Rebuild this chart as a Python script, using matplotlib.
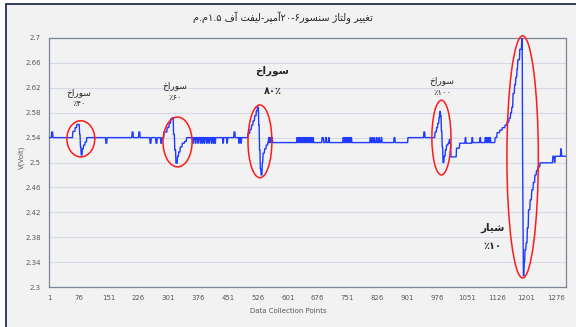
import re
import numpy as np
import matplotlib
matplotlib.use("Agg")
import matplotlib.pyplot as plt
from matplotlib.patches import Ellipse, Rectangle

# sensor trace, stored as steps: index where each level starts and its voltage
seg_start = [1, 8, 11, 61, 67, 71, 78, 80, 82, 85, 88, 92, 96,
             144, 147, 210, 213, 227, 230, 255, 258, 270, 273, 282, 285,
             290, 298, 303, 307, 311, 314, 317, 320, 324, 327, 331, 336, 342, 347,
             363, 365, 369, 371, 375, 377, 381, 383, 386, 388, 391, 393, 397, 399,
             403, 405, 409, 411, 414, 416, 418, 420,
             438, 440, 448, 450, 466, 469, 478, 480, 483, 485,
             501, 506, 510, 514, 518, 522, 525, 528, 530, 532, 534, 537, 539, 543, 547, 551,
             553, 555, 557, 559, 561, 563,
             624, 626, 628, 630, 632, 634, 636, 638, 640, 642, 644, 646, 648, 650,
             652, 654, 656, 658, 660, 662, 664, 666,
             687, 691, 696, 699, 704, 706,
             740, 742, 744, 746, 748, 750, 752, 754, 756, 758, 760, 762,
             808, 810, 813, 815, 818, 820, 824, 826, 830, 832, 836, 838,
             868, 871, 903, 943, 946,
             971, 975, 978, 981, 983, 985, 987, 989, 991, 994, 997, 1000, 1004, 1007,
             1009, 1011, 1025, 1033, 1047, 1049, 1064,
             1066, 1084, 1086, 1097, 1099, 1101, 1103, 1105, 1107, 1109, 1111,
             1122, 1127, 1134, 1140, 1147, 1152, 1157, 1161, 1164, 1167, 1171, 1174,
             1177, 1179, 1184, 1189, 1191, 1192, 1193,
             1195, 1197, 1200, 1203, 1206, 1210, 1214, 1218, 1222, 1226, 1230, 1235,
             1267, 1271, 1273, 1287, 1289]
seg_volt = [2.540, 2.549, 2.540, 2.550, 2.556, 2.561, 2.545, 2.525, 2.512, 2.522, 2.528, 2.533, 2.540,
            2.531, 2.540, 2.549, 2.540, 2.549, 2.540, 2.531, 2.540, 2.531, 2.540, 2.531, 2.540,
            2.549, 2.556, 2.563, 2.570, 2.572, 2.545, 2.520, 2.499, 2.510, 2.517, 2.525, 2.531, 2.534, 2.540,
            2.531, 2.540, 2.531, 2.540, 2.531, 2.540, 2.531, 2.540, 2.531, 2.540, 2.531, 2.540, 2.531, 2.540,
            2.531, 2.540, 2.531, 2.540, 2.531, 2.540, 2.531, 2.540,
            2.531, 2.540, 2.531, 2.540, 2.549, 2.540, 2.531, 2.540, 2.531, 2.540,
            2.547, 2.553, 2.560, 2.567, 2.575, 2.583, 2.589, 2.560, 2.520, 2.490, 2.480, 2.500, 2.515, 2.522, 2.528, 2.532,
            2.540, 2.532, 2.540, 2.532, 2.540, 2.532,
            2.540, 2.532, 2.540, 2.532, 2.540, 2.532, 2.540, 2.532, 2.540, 2.532, 2.540, 2.532, 2.540, 2.532,
            2.540, 2.532, 2.540, 2.532, 2.540, 2.532, 2.540, 2.532,
            2.540, 2.532, 2.540, 2.532, 2.540, 2.532,
            2.540, 2.532, 2.540, 2.532, 2.540, 2.532, 2.540, 2.532, 2.540, 2.532, 2.540, 2.532,
            2.540, 2.532, 2.540, 2.532, 2.540, 2.532, 2.540, 2.532, 2.540, 2.532, 2.540, 2.532,
            2.540, 2.532, 2.540, 2.549, 2.540,
            2.549, 2.556, 2.563, 2.572, 2.582, 2.575, 2.550, 2.525, 2.500, 2.510, 2.520, 2.528, 2.531, 2.537,
            2.531, 2.509, 2.523, 2.531, 2.540, 2.531, 2.540,
            2.532, 2.540, 2.532, 2.540, 2.532, 2.540, 2.532, 2.540, 2.532, 2.540, 2.532,
            2.540, 2.548, 2.552, 2.556, 2.560, 2.565, 2.571, 2.580, 2.589, 2.611, 2.625, 2.637,
            2.650, 2.665, 2.682, 2.700, 2.500, 2.400, 2.318,
            2.340, 2.360, 2.371, 2.395, 2.424, 2.440, 2.456, 2.468, 2.480, 2.487, 2.493, 2.4995,
            2.510, 2.500, 2.510, 2.522, 2.510]
n_points = 1300

# defect markers: label, percent text, label position, ellipse centre and size
marks = [
    ("سوراخ", "۴۰٪", 77, 2.613, 2.594, 81, 2.538, 70, 0.058, False),
    ("سوراخ", "۶۰٪", 318, 2.624, 2.604, 324, 2.533, 73, 0.080, False),
    ("سوراخ", "٪۸۰", 563, 2.647, 2.615, 531, 2.534, 60, 0.117, True),
    ("سوراخ", "۱۰۰٪", 989, 2.631, 2.612, 987, 2.540, 48, 0.120, False),
    ("شیار", "۱۰٪", 1115, 2.395, 2.366, 1191, 2.509, 79, 0.389, True),
]

title = "تغییر ولتاژ سنسور۶-۲۰آمپر-لیفت آف ۱.۵م.م"

x_ticks = list(range(1, 1277, 75))
y_ticks = np.round(np.arange(2.30, 2.701, 0.04), 2)

# isolated, final, initial, medial presentation forms
FORMS = {
    'ا': ('\uFE8D', '\uFE8E', None, None),
    'آ': ('\uFE81', '\uFE82', None, None),
    'ر': ('\uFEAD', '\uFEAE', None, None),
    'و': ('\uFEED', '\uFEEE', None, None),
    'ژ': ('\uFB8A', '\uFB8B', None, None),
    'ت': ('\uFE95', '\uFE96', '\uFE97', '\uFE98'),
    'غ': ('\uFECD', '\uFECE', '\uFECF', '\uFED0'),
    'ی': ('\uFBFC', '\uFBFD', '\uFBFE', '\uFBFF'),
    'ل': ('\uFEDD', '\uFEDE', '\uFEDF', '\uFEE0'),
    'س': ('\uFEB1', '\uFEB2', '\uFEB3', '\uFEB4'),
    'ش': ('\uFEB5', '\uFEB6', '\uFEB7', '\uFEB8'),
    'ن': ('\uFEE5', '\uFEE6', '\uFEE7', '\uFEE8'),
    'م': ('\uFEE1', '\uFEE2', '\uFEE3', '\uFEE4'),
    'پ': ('\uFB56', '\uFB57', '\uFB58', '\uFB59'),
    'ف': ('\uFED1', '\uFED2', '\uFED3', '\uFED4'),
    'خ': ('\uFEA5', '\uFEA6', '\uFEA7', '\uFEA8'),
}


def fa(text):
    # join letters and lay the string out right to left, digit runs stay LTR
    out = []
    for i, c in enumerate(text):
        if c not in FORMS:
            out.append(c)
            continue
        prev = text[i - 1] if i > 0 else ''
        nxt = text[i + 1] if i + 1 < len(text) else ''
        join_prev = prev in FORMS and FORMS[prev][2] is not None
        join_next = FORMS[c][2] is not None and nxt in FORMS
        iso, fin, ini, med = FORMS[c]
        if join_prev and join_next:
            out.append(med)
        elif join_prev:
            out.append(fin)
        elif join_next:
            out.append(ini)
        else:
            out.append(iso)
    tokens = re.findall(r'[۰-۹]+(?:\.[۰-۹]+)*|.', ''.join(out))
    return ''.join(reversed(tokens))


starts = np.array(seg_start + [n_points + 1])
volts = np.repeat(seg_volt, np.diff(starts))
idx = np.arange(1, n_points + 1)

fig = plt.figure(figsize=(5.76, 3.27), dpi=100, facecolor='white')
fig.patches.append(Rectangle((6 / 576, -0.1), 1.2, 0.1 + 323 / 327, transform=fig.transFigure,
                             facecolor='#f2f2f2', edgecolor='#22304f', lw=1.3, zorder=-5))

ax = fig.add_axes([49 / 576, 40 / 327, 517 / 576, 249 / 327])
ax.set_zorder(2)
ax.set_facecolor('#f2f2f2')
ax.plot(idx, volts, color='#1f3bff', lw=1.0, zorder=3)

ax.set_xlim(1, n_points)
ax.set_ylim(2.3, 2.7)
ax.set_xticks(x_ticks)
ax.set_xticklabels([str(t) for t in x_ticks])
ax.set_yticks(y_ticks)
ax.set_yticklabels([f"{t:g}" for t in y_ticks])
ax.tick_params(length=0, labelsize=5, colors='#595959', pad=6)
ax.grid(axis='y', color='#d5dbe6', lw=0.8)
ax.set_axisbelow(True)
for sp in ax.spines.values():
    sp.set_color('#7d8699')
    sp.set_linewidth(0.9)

for word, pct, tx, ty1, ty2, ex, ey, ew, eh, strong in marks:
    w = 'bold' if strong else 'normal'
    fs = 7.5 if strong else 6.5
    ax.text(tx, ty1, fa(word), ha='center', va='center', fontsize=fs, fontweight=w, color='#262626')
    ax.text(tx, ty2, fa(pct), ha='center', va='center', fontsize=fs - 0.5, fontweight=w, color='#262626')
    ax.add_patch(Ellipse((ex, ey), ew, eh, fill=False, edgecolor='#ff1a1a', lw=1.1,
                         clip_on=False, zorder=4))

fig.text(0.492, 0.947, fa(title), ha='center', va='center', fontsize=7, color='#262626')
fig.text(0.5, 0.048, "Data Collection Points", ha='center', va='center', fontsize=5, color='#595959')
fig.text(0.037, 0.52, "V(Volt)", ha='center', va='center', rotation=90, fontsize=5, color='#595959')

fig.savefig('out.png', dpi=100, facecolor=fig.get_facecolor())
